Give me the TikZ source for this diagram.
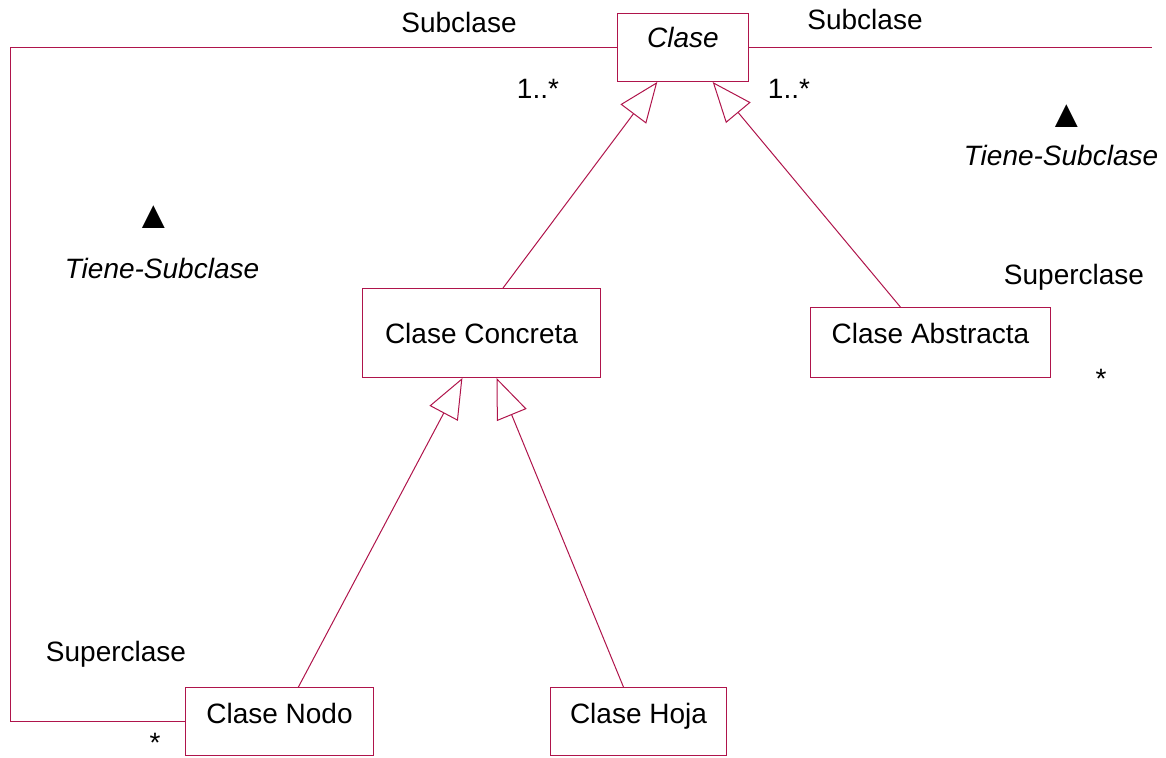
\documentclass[tikz,border=0pt]{standalone}
\usepackage{fontspec}
\setmainfont{Liberation Sans}
\usepackage{tikz}
\usetikzlibrary{positioning, arrows.meta, calc}
\definecolor{umlRed}{RGB}{175,20,75}
\tikzset{
	umlbox/.style={rectangle, draw=umlRed, line width=1pt, anchor=north west,
		inner sep=0pt, text depth=34pt, align=center,
		font=\fontsize{28}{33}\selectfont},
	genarr/.style={-{Triangle[open, length=40pt, width=32pt]}, line width=1pt, draw=umlRed},
	assoc/.style={line width=1pt, draw=umlRed},
	rolelabel/.style={font=\fontsize{28}{33}\selectfont, inner sep=0pt},
	namelabel/.style={font=\fontsize{28}{33}\itshape, inner sep=0pt},
	dirmark/.style={font=\fontsize{39}{44}\selectfont, inner sep=0pt}
}
\begin{document}
\begin{tikzpicture}[x=1pt, y=-1pt]
	\useasboundingbox (0,0) rectangle (1166,757);
	% classes
	\node[umlbox, minimum width=131pt, text height=34pt, font=\fontsize{28}{33}\itshape] (clase) at (617,13) {Clase};
	\node[umlbox, minimum width=238pt, text height=55pt] (concreta) at (362,288) {Clase Concreta};
	\node[umlbox, minimum width=240pt, text height=36pt] (abstracta) at (810,307) {Clase Abstracta};
	\node[umlbox, minimum width=188pt, text height=36pt, text depth=32pt] (nodo) at (185,687) {Clase Nodo};
	\node[umlbox, minimum width=176pt, text height=36pt, text depth=32pt] (hoja) at (550,687) {Clase Hoja};
	% generalizations
	\foreach \child/\cf/\parent/\pf in {concreta/0.59/clase/0.305, abstracta/0.375/clase/0.725,
		nodo/0.6/concreta/0.42, hoja/0.415/concreta/0.563}
		\draw[genarr] ($(\child.north west)!\cf!(\child.north east)$) -- ($(\parent.south west)!\pf!(\parent.south east)$);
	% association Tiene-Subclase
	\coordinate (leftturn) at (10,0);
	\coordinate (rightend) at (1152,0);
	\draw[assoc] (clase.west) -- (clase.west -| leftturn) |- (nodo.west);
	\draw[assoc] (clase.east) -- (clase.east -| rightend);
	% role labels
	\node[rolelabel] (subL) at (459,22) {Subclase};
	\node[rolelabel] (subR) at (865,19) {Subclase};
	\node[rolelabel] (multL) at (538,89) {1..*};
	\node[rolelabel] (multR) at (789,89) {1..*};
	\node[rolelabel] (supL) at (116,654) {Superclase};
	\node[rolelabel, anchor=north] (starL) at (155,733) {*};
	\node[rolelabel] (supR) at (1074,277) {Superclase};
	\node[rolelabel] (starR) at (1101,379) {*};
	% association names
	\node[dirmark] (triL) at (154,217) {▲};
	\node[namelabel] (nameL) at (162,268) {Tiene-Subclase};
	\node[dirmark] (triR) at (1067,116) {▲};
	\node[namelabel] (nameR) at (1061,155) {Tiene-Subclase};
\end{tikzpicture}
\end{document}
